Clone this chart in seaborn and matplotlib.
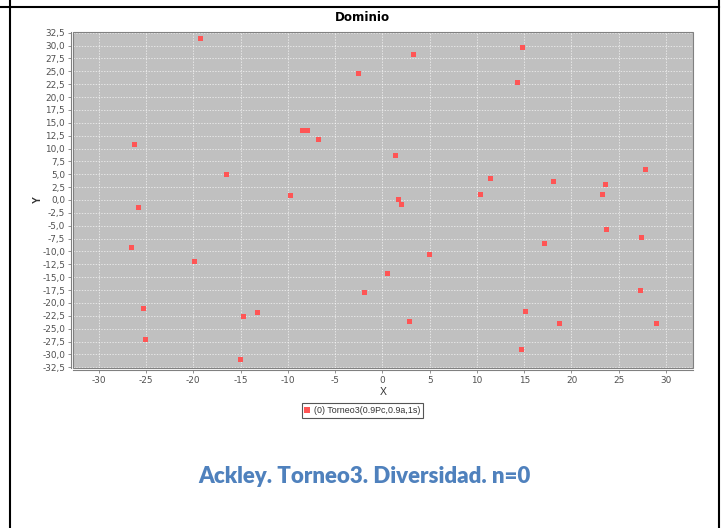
import matplotlib
matplotlib.use("Agg")
import matplotlib.pyplot as plt
from matplotlib.ticker import MultipleLocator, FuncFormatter
from matplotlib.lines import Line2D
from matplotlib.patches import Rectangle
import seaborn as sns
import pandas as pd

# Population positions in the search domain (generation n=0)
x_vals = [-19.22, -2.48, -26.26, -16.51, -9.71, -8.44, -7.95, -6.71, 3.29, 14.81,
          14.25, 1.42, 11.43, 18.12, 23.62, 27.85, 10.34, 23.27, 1.74, -25.81,
          -26.58, -19.86, -25.31, -25.10, -14.64, -13.16, -14.96, 2.02, 23.69, 27.42,
          17.17, 5.02, 0.51, -1.85, 27.35, 15.09, 2.87, 18.76, 28.97, 14.74]
y_vals = [31.34, 24.57, 10.76, 4.89, 0.89, 13.41, 13.41, 11.67, 28.24, 29.72,
          22.83, 8.63, 4.26, 3.54, 3.09, 5.86, 1.16, 1.16, 0.12, -1.49,
          -9.17, -12.00, -21.03, -27.03, -22.64, -21.80, -31.03, -0.97, -5.75, -7.35,
          -8.51, -10.52, -14.26, -17.93, -17.55, -21.67, -23.68, -23.99, -23.99, -29.02]
series_name = "(0) Torneo3(0.9Pc,0.9a,1s)"
chart_title = "Dominio"
caption = "Ackley. Torneo3. Diversidad. n=0"
x_label = "X"
y_label = "Y"

df = pd.DataFrame({"x": x_vals, "y": y_vals, "serie": series_name})

W, H = 724, 528
fig = plt.figure(figsize=(W / 100, H / 100), dpi=100)
fig.patch.set_facecolor("white")

left, right, top, bottom = 72.7, 693.0, 31.7, 368.3
ax = fig.add_axes([left / W, 1 - bottom / H, (right - left) / W, (bottom - top) / H])
ax.set_facecolor("#C0C0C0")

sns.scatterplot(data=df, x="x", y="y", marker="s", s=13, color="#FF5555",
                edgecolor="none", linewidth=0, ax=ax, legend=False, zorder=3)

ax.set_xlim(-32.75, 32.85)
ax.set_ylim(-32.7, 32.7)
ax.xaxis.set_major_locator(MultipleLocator(5))
ax.yaxis.set_major_locator(MultipleLocator(2.5))
ax.yaxis.set_major_formatter(FuncFormatter(lambda v, p: f"{v:.1f}".replace(".", ",").replace("\u2212", "-")))
ax.xaxis.set_major_formatter(FuncFormatter(lambda v, p: f"{v:.0f}"))

ax.grid(True, color="white", linestyle=(0, (2, 2)), linewidth=0.5, alpha=0.85, zorder=1)
ax.set_axisbelow(True)

small = "Liberation Sans"
ax.tick_params(axis="both", direction="out", length=2, width=0.6, color="#808080",
               labelsize=6.4, labelcolor="#505050", pad=2)
for lab in ax.get_xticklabels() + ax.get_yticklabels():
    lab.set_fontfamily(small)

for side in ["top", "right"]:
    ax.spines[side].set_visible(False)
for side in ["left", "bottom"]:
    ax.spines[side].set_position(("outward", 1.5))
    ax.spines[side].set_color("#808080")
    ax.spines[side].set_linewidth(0.8)

# outline of the data area
ax.add_patch(Rectangle((0, 0), 1, 1, transform=ax.transAxes, fill=False,
                       edgecolor="#808080", linewidth=0.8, clip_on=False, zorder=5))

ax.set_xlabel("")
ax.set_ylabel("")
fig.text(383 / W, 1 - 392 / H, x_label, ha="center", va="center",
         fontsize=7.5, family=small, color="#333333")
fig.text(37.5 / W, 1 - 199.5 / H, y_label, ha="center", va="center", rotation=90,
         fontsize=7.5, family=small, color="#333333", fontweight="bold")

fig.text(362.3 / W, 1 - 20.7 / H, chart_title, ha="center", va="baseline",
         fontsize=8.6, fontweight="bold", family="DejaVu Sans", color="black")

handle = Line2D([], [], marker="s", linestyle="none", color="#FF5555",
                markersize=3.8, markeredgewidth=0)
leg = fig.legend([handle], [series_name], loc="upper center",
                 bbox_to_anchor=(362.3 / W, 1 - 402.7 / H),
                 prop={"family": small, "size": 6.4}, frameon=True,
                 fancybox=False, edgecolor="#555555", framealpha=1,
                 handlelength=0.6, handletextpad=0.4, borderpad=0.35,
                 borderaxespad=0)
leg.get_frame().set_linewidth(0.8)
for t in leg.get_texts():
    t.set_color("#333333")

fig.text(364.5 / W, 1 - 482.7 / H, caption, ha="center", va="baseline",
         fontsize=16, fontweight="heavy", family="Lato", color="#4F81BD")

# page frame lines
lw = 1.5
fig.add_artist(Line2D([10 / W, 10 / W], [0, 1], color="black", linewidth=lw,
                      transform=fig.transFigure))
fig.add_artist(Line2D([719 / W, 719 / W], [0, 1], color="black", linewidth=lw,
                      transform=fig.transFigure))
fig.add_artist(Line2D([0, 719 / W], [1 - 6.5 / H, 1 - 6.5 / H], color="black",
                      linewidth=lw, transform=fig.transFigure))

fig.savefig("out.png", dpi=100)
